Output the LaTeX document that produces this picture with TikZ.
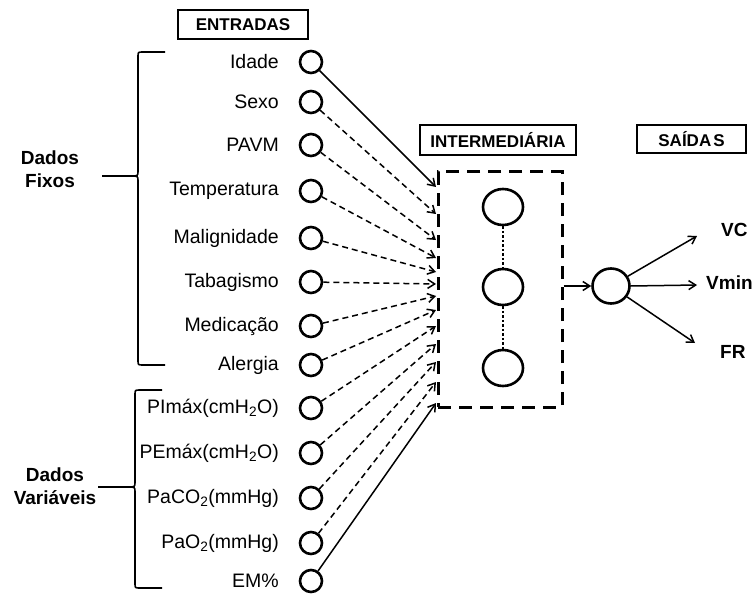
\documentclass[tikz,border=0pt]{standalone}
\usepackage{fontspec}
\setmainfont{Liberation Sans}
\usetikzlibrary{arrows.meta,shapes.geometric}
\begin{document}
\begin{tikzpicture}[x=1pt,y=-1pt,
  lbl/.style={anchor=east, inner sep=0pt, font=\fontsize{19.5}{21}\selectfont},
  head/.style={draw, line width=1.5pt, inner sep=0pt, font=\bfseries\fontsize{17}{19}\selectfont},
  group/.style={align=center, inner sep=0pt, font=\bfseries\fontsize{19}{23}\selectfont},
  outlbl/.style={anchor=west, inner sep=0pt, font=\bfseries\fontsize{19}{21}\selectfont},
  innode/.style={draw, line width=2.6pt, circle, minimum size=22pt, inner sep=0pt},
  hidnode/.style={draw, line width=2.6pt, ellipse, minimum width=40pt, minimum height=36pt, inner sep=0pt},
  outnode/.style={draw, line width=2.6pt, ellipse, minimum width=37pt, minimum height=35pt, inner sep=0pt},
  arr/.style={line width=1.5pt, -{Straight Barb[length=7pt,width=9pt,line width=1.5pt]}},
  darr/.style={arr, dash pattern=on 6pt off 4pt},
  brace/.style={line width=1.6pt, line join=round}]
\useasboundingbox (0,0) rectangle (754,596);

% column headers
\node[head, minimum width=130pt, minimum height=29pt] (hin) at (243,24.5) {ENTRADAS};
\node[head, minimum width=156pt, minimum height=30pt] (hmid) at (498,140) {INTERMEDIÁRIA};
\node[head, minimum width=109pt, minimum height=28pt] (hout) at (691.5,139) {SAÍDA\kern2pt S};

% input neurons and their labels
\foreach \i/\y/\t in {1/62/Idade, 2/102/Sexo, 3/145/PAVM, 4/191/Temperatura,
  5/238/Malignidade, 6/282/Tabagismo, 7/326/Medicação, 8/365/Alergia,
  9/408/PImáx(cmH\textsubscript{2}O), 10/453/PEmáx(cmH\textsubscript{2}O),
  11/498/PaCO\textsubscript{2}(mmHg), 12/543/PaO\textsubscript{2}(mmHg), 13/581/EM\%} {
  \node[innode] (i\i) at (311,\y) {};
  \node[lbl] (l\i) at (279,\y) {\t};
}

% arrow targets along the left edge of the hidden layer
\foreach \i/\y in {1/187, 2/214, 3/240, 4/258, 5/272, 6/284, 7/296, 8/310,
  9/326, 10/344, 11/362, 12/382, 13/403} {
  \coordinate (t\i) at (436,\y);
}

\draw[arr] (i1) -- (t1);
\foreach \i in {2,...,12} { \draw[darr] (i\i) -- (t\i); }
\draw[arr] (i13) -- (t13);

% hidden layer
\node[draw, line width=3pt, dash pattern=on 13pt off 8pt, minimum width=124pt,
  minimum height=235pt, inner sep=0pt] (hbox) at (500,289.5) {};
\node[hidnode] (h1) at (503,207) {};
\node[hidnode] (h2) at (503,287) {};
\node[hidnode] (h3) at (503,368) {};
\draw[line width=2.6pt, dash pattern=on 2.5pt off 2pt] (h1) -- (h2);
\draw[line width=2.6pt, dash pattern=on 2.5pt off 2pt] (h2) -- (h3);

% output neuron and outputs
\node[outnode] (o) at (611,286) {};
\draw[arr] (hbox.east |- o.west) -- (o.west);
\node[outlbl] (vc) at (721,230) {VC};
\node[outlbl] (vmin) at (706,283) {Vmin};
\node[outlbl] (fr) at (720,352) {FR};
\coordinate (cvc) at (697,236);
\coordinate (cvmin) at (697,285);
\coordinate (cfr) at (695,343);
\draw[arr] (o) -- (cvc);
\draw[arr] (o.east) -- (cvmin);
\draw[arr] (o) -- (cfr);

% group braces
\draw[brace] (165,52) -- (143,52) .. controls (138,52) .. (138,57) -- (138,171)
  .. controls (138,176) .. (131,176) -- (102,176);
\draw[brace] (131,176) .. controls (138,176) .. (138,181) -- (138,360)
  .. controls (138,365) .. (143,365) -- (165,365);
\node[group] (gfix) at (50,169.5) {Dados\\Fixos};

\draw[brace] (162,390) -- (140,390) .. controls (135,390) .. (135,395) -- (135,482)
  .. controls (135,487) .. (128,487) -- (98,487);
\draw[brace] (128,487) .. controls (135,487) .. (135,492) -- (135,583)
  .. controls (135,588) .. (140,588) -- (162,588);
\node[group] (gvar) at (55,486) {Dados\\Variáveis};
\end{tikzpicture}
\end{document}
